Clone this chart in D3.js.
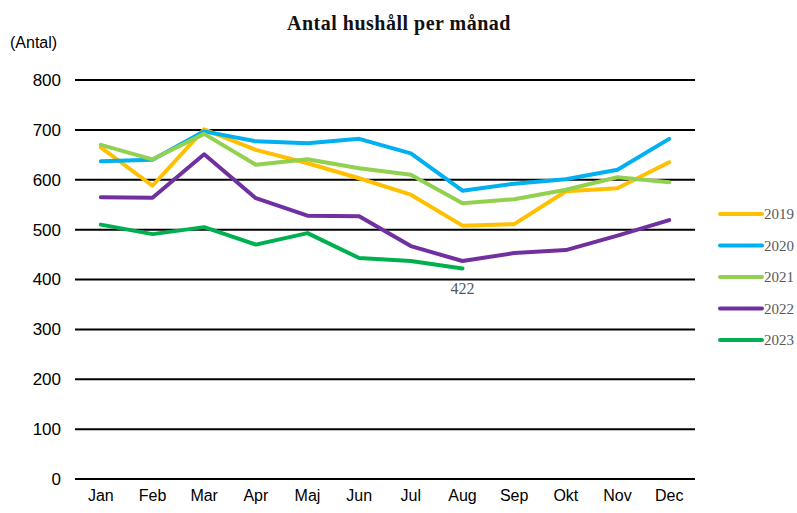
<!DOCTYPE html>
<html lang="sv">
<head>
<meta charset="UTF-8">
<title>Antal hushåll per månad</title>
<script src="https://cdn.jsdelivr.net/npm/d3@7"></script>
<style>
  body { margin: 0; background: #fff; }
</style>
</head>
<body>
<div id="app"></div>
<script>
var width = 797;
var height = 513;

var months = ["Jan", "Feb", "Mar", "Apr", "Maj", "Jun", "Jul", "Aug", "Sep", "Okt", "Nov", "Dec"];
var years = ["2019", "2020", "2021", "2022", "2023"];
var colors = ["#FFC000", "#00B0F0", "#92D050", "#7030A0", "#00B050"];

var v2019 = [665, 588, 701, 660, 633, 603, 570, 508, 511, 577, 583, 635];
var v2020 = [637, 640, 697, 677, 673, 682, 653, 578, 592, 601, 620, 682];
var v2021 = [670, 641, 692, 630, 641, 623, 610, 553, 561, 580, 605, 595];
var v2022 = [565, 564, 651, 563, 528, 527, 467, 437, 453, 459, 488, 519];
var v2023 = [510, 491, 505, 470, 493, 443, 437, 422];
var series = [v2019, v2020, v2021, v2022, v2023];

var yTicks = [0, 100, 200, 300, 400, 500, 600, 700, 800];

var svg = d3.select("#app").append("svg")
    .attr("width", width)
    .attr("height", height);

var x = d3.scaleBand().domain(months).range([75, 695]);
var y = d3.scaleLinear().domain([0, 800]).range([479, 80]);

// title
svg.append("text")
    .attr("x", 399).attr("y", 30)
    .attr("text-anchor", "middle")
    .style("font-family", "'Liberation Serif', serif")
    .style("font-size", "20px")
    .style("font-weight", "bold")
    .style("letter-spacing", "0.5px")
    .style("fill", "#111")
    .text("Antal hushåll per månad");

svg.append("text")
    .attr("x", 10).attr("y", 48)
    .style("font-family", "'Liberation Sans', Arial, sans-serif")
    .style("font-size", "16px")
    .style("fill", "#000")
    .text("(Antal)");

// gridlines
svg.append("g").selectAll("line")
    .data(yTicks)
    .enter().append("line")
    .attr("x1", 75).attr("x2", 695)
    .attr("y1", function (d) { return y(d); })
    .attr("y2", function (d) { return y(d); })
    .attr("stroke", "#000")
    .attr("stroke-width", 2);

// y axis labels
var yAxis = svg.append("g")
    .attr("transform", "translate(61,0)")
    .call(d3.axisLeft(y).tickValues(yTicks).tickSize(0).tickPadding(0));
yAxis.select(".domain").remove();
yAxis.selectAll("text")
    .style("font-family", "'Liberation Sans', Arial, sans-serif")
    .style("font-size", "17px")
    .style("fill", "#000");

// x axis labels
var xAxis = svg.append("g")
    .attr("transform", "translate(0,490)")
    .call(d3.axisBottom(x).tickSize(0).tickPadding(0));
xAxis.select(".domain").remove();
xAxis.selectAll("text")
    .attr("dy", "0.71em")
    .style("font-family", "'Liberation Sans', Arial, sans-serif")
    .style("font-size", "16px")
    .style("fill", "#000");

var line = d3.line()
    .x(function (d, i) { return x(months[i]) + x.bandwidth() / 2; })
    .y(function (d) { return y(d); });

svg.append("g").selectAll("path")
    .data(series)
    .enter().append("path")
    .attr("d", line)
    .attr("fill", "none")
    .attr("stroke", function (d, i) { return colors[i]; })
    .attr("stroke-width", 4)
    .attr("stroke-linejoin", "round")
    .attr("stroke-linecap", "round");

// label on last 2023 point
var last = v2023.length - 1;
svg.append("text")
    .attr("x", x(months[last]) + x.bandwidth() / 2)
    .attr("y", y(v2023[last]) + 25)
    .attr("text-anchor", "middle")
    .style("font-family", "'Liberation Serif', serif")
    .style("font-size", "16px")
    .style("fill", "#595959")
    .text(v2023[last]);

// legend
var legend = svg.append("g").selectAll("g")
    .data(years)
    .enter().append("g")
    .attr("transform", function (d, i) { return "translate(720," + (214 + i * 31.5) + ")"; });
legend.append("line")
    .attr("x1", 0).attr("x2", 42)
    .attr("stroke", function (d, i) { return colors[i]; })
    .attr("stroke-width", 4)
    .attr("stroke-linecap", "round");
legend.append("text")
    .attr("x", 44).attr("dy", "0.35em")
    .style("font-family", "'Liberation Serif', serif")
    .style("font-size", "15px")
    .style("fill", "#595959")
    .text(function (d) { return d; });
</script>
</body>
</html>
